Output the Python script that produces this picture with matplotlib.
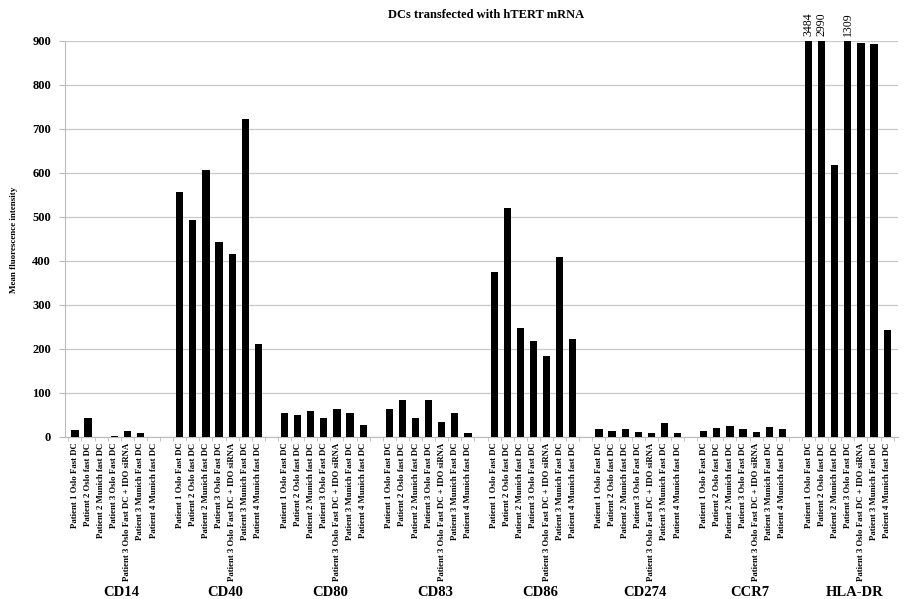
import matplotlib.pyplot as plt
import numpy as np

groups = ['CD14', 'CD40', 'CD80', 'CD83', 'CD86', 'CD274', 'CCR7', 'HLA-DR']
samples = ['Patient 1 Oslo Fast DC', 'Patient 2 Oslo fast DC', 'Patient 2 Munich fast DC',
           'Patient 3 Oslo Fast DC', 'Patient 3 Oslo Fast DC + IDO siRNA',
           'Patient 3 Munich Fast DC', 'Patient 4 Munich fast DC']

cd14 = [15, 42, 0, 2, 14, 8, 1]
cd40 = [557, 493, 606, 442, 416, 723, 211]
cd80 = [55, 49, 60, 43, 64, 54, 27]
cd83 = [64, 83, 42, 84, 33, 54, 10]
cd86 = [375, 521, 247, 217, 185, 408, 222]
cd274 = [17, 14, 17, 11, 8, 31, 10]
ccr7 = [14, 20, 26, 19, 12, 22, 17]
hla_dr = [3484, 2990, 618, 1309, 895, 893, 242]
values = [cd14, cd40, cd80, cd83, cd86, cd274, ccr7, hla_dr]

ymax = 900
serif = 'Liberation Serif'

fig = plt.figure(figsize=(9.1, 5.99), dpi=100)
ax = fig.add_axes([0.0714, 0.2705, 0.915, 0.6611])

xs, heights, labels = [], [], []
for g, vals in enumerate(values):
    for i, v in enumerate(vals):
        xs.append(g * 8 + i)
        heights.append(v)
        labels.append(samples[i])
xs = np.array(xs)
heights = np.array(heights)

ax.bar(xs, np.minimum(heights, ymax), width=0.55, color='black', zorder=3)

# values that run off the top of the axis
for x, h in zip(xs, heights):
    if h > ymax:
        ax.text(x, ymax + 12, str(h), rotation=90, ha='center', va='bottom',
                fontsize=8.5, family=serif, clip_on=False)

ax.set_xlim(-0.76, 62.8)
ax.set_ylim(0, ymax)
ax.set_yticks(range(0, 901, 100))
ax.set_yticklabels([str(t) for t in range(0, 901, 100)], fontsize=9,
                   fontweight='bold', family=serif)
ax.set_xticks(xs)
ax.set_xticklabels(labels, rotation=90, fontsize=6.3, fontweight='bold',
                   family=serif)
ax.tick_params(axis='x', length=0, pad=4)
ax.tick_params(axis='y', length=4, color='#bbbbbb', pad=6)
ax.set_xticks(np.arange(-0.5, 63, 1), minor=True)
ax.tick_params(axis='x', which='minor', length=3, color='#bbbbbb')

ax.grid(axis='y', color='#c8c8c8', linewidth=0.9, zorder=0)
for s in ['top', 'right']:
    ax.spines[s].set_visible(False)
ax.spines['left'].set_color('#bbbbbb')
ax.spines['bottom'].set_color('#bbbbbb')

for g, name in enumerate(groups):
    ax.text(g * 8 + 3.5, -0.393, name, transform=ax.get_xaxis_transform(),
            ha='center', va='center', fontsize=10.5, fontweight='bold', family=serif)

fig.text(0.015, 0.6, 'Mean fluorescence intensity', rotation=90, ha='center',
         va='center', fontsize=6.5, fontweight='bold', family=serif)
fig.text(0.534, 0.975, 'DCs transfected with hTERT mRNA', ha='center', va='center',
         fontsize=9, fontweight='bold', family=serif)

fig.savefig('out.png', dpi=100)
